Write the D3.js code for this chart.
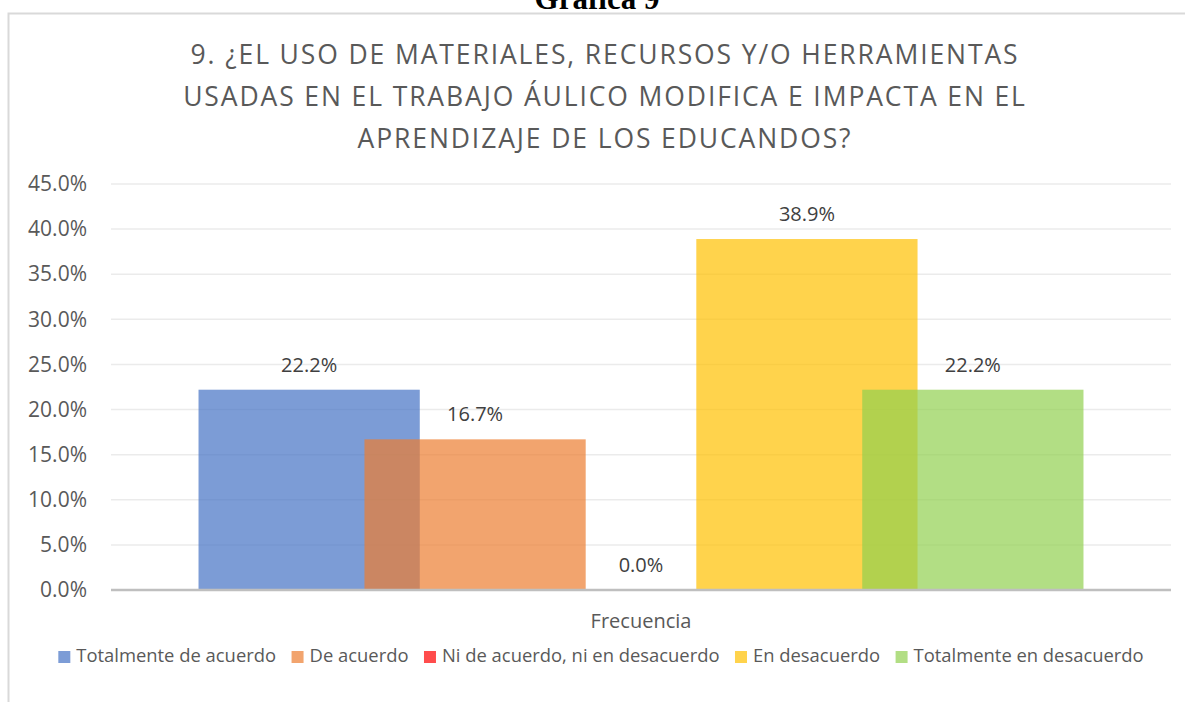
<!DOCTYPE html>
<html>
<head>
<meta charset="utf-8">
<script src="https://cdn.jsdelivr.net/npm/d3@7"></script>
<style>
  body { margin: 0; background: #fff; }
  text { font-family: "Open Sans", sans-serif; }
</style>
</head>
<body>
<div id="chart"></div>
<script>
// Data
const categories = ["Frecuencia"];
const series = ["Totalmente de acuerdo", "De acuerdo", "Ni de acuerdo, ni en desacuerdo", "En desacuerdo", "Totalmente en desacuerdo"];
const values = [0.222, 0.167, 0.0, 0.389, 0.222];
const colors = ["#4472C4", "#ED7D31", "#FF0000", "#FFC000", "#92D050"];
const yTicks = [0, 0.05, 0.10, 0.15, 0.20, 0.25, 0.30, 0.35, 0.40, 0.45];
const titleLines = [
  "9. ¿EL USO DE MATERIALES, RECURSOS Y/O HERRAMIENTAS",
  "USADAS EN EL TRABAJO ÁULICO MODIFICA E IMPACTA EN EL",
  "APRENDIZAJE DE LOS EDUCANDOS?"
];

const width = 1185, height = 702;
const plot = { left: 111, right: 1171, top: 184, bottom: 590 };

const svg = d3.select("#chart").append("svg")
    .attr("width", width)
    .attr("height", height);

// Caption above the frame (cut off at the top, as in the original page)
svg.append("text")
    .attr("x", 597)
    .attr("y", 9)
    .attr("text-anchor", "middle")
    .style("font-family", "'Liberation Serif', 'Times New Roman', serif")
    .style("font-weight", "bold")
    .style("font-size", "31px")
    .attr("fill", "#000")
    .text("Gráfica 9");

// Chart frame
svg.append("path")
    .attr("d", `M8.5,${height} V13.5 H${width}`)
    .attr("fill", "none")
    .attr("stroke", "#D9D9D9")
    .attr("stroke-width", 2);

// Title
const title = svg.append("g");
titleLines.forEach((line, i) => {
  title.append("text")
      .attr("class", "title-line")
      .attr("x", 605)
      .attr("y", 64 + i * 42)
      .attr("text-anchor", "middle")
      .style("font-size", "26.5px")
      .style("font-weight", 400)
      .attr("fill", "#595959")
      .text(line);
});
// fit letter spacing so the first line spans the same width as the original
const firstLine = title.select(".title-line").node();
const natural = firstLine.getComputedTextLength();
const spacing = (827 - natural) / (titleLines[0].length - 1);
title.selectAll(".title-line").style("letter-spacing", spacing + "px");

// Scales
const y = d3.scaleLinear().domain([0, 0.45]).range([plot.bottom, plot.top]);
const x0 = d3.scaleBand().domain(categories).range([plot.left, plot.right])
    .paddingInner(0).paddingOuter(0.0989);
const overlap = 0.25;
const barW = x0.bandwidth() / (1 + (series.length - 1) * (1 - overlap));
const x1 = d3.scalePoint().domain(series).range([0, x0.bandwidth() - barW]);
const color = d3.scaleOrdinal().domain(series).range(colors);

// Gridlines
svg.append("g")
  .selectAll("line")
  .data(yTicks.slice(1))
  .join("line")
    .attr("x1", plot.left)
    .attr("x2", plot.right)
    .attr("y1", d => y(d))
    .attr("y2", d => y(d))
    .attr("stroke", "#EBEBEB")
    .attr("stroke-width", 1.5);

// Y axis labels
const yAxis = svg.append("g")
    .attr("transform", `translate(${plot.left - 24},0)`)
    .call(d3.axisLeft(y).tickValues(yTicks).tickFormat(d3.format(".1%")).tickSize(0).tickPadding(0));
yAxis.select(".domain").remove();
yAxis.selectAll("text")
    .style("font-family", "'Open Sans', sans-serif")
    .style("font-size", "21px")
    .attr("fill", "#595959");

// Bars
const data = series.map((s, i) => ({ cat: categories[0], key: s, value: values[i] }));
svg.append("g")
  .selectAll("rect")
  .data(data)
  .join("rect")
    .attr("x", d => x0(d.cat) + x1(d.key))
    .attr("y", d => y(d.value))
    .attr("width", barW)
    .attr("height", d => y(0) - y(d.value))
    .attr("fill", d => color(d.key))
    .attr("fill-opacity", 0.7);

// Data labels
svg.append("g")
  .selectAll("text")
  .data(data)
  .join("text")
    .attr("x", d => x0(d.cat) + x1(d.key) + barW / 2)
    .attr("y", d => y(d.value) - 18)
    .attr("text-anchor", "middle")
    .style("font-size", "20px")
    .attr("fill", "#404040")
    .text(d => d3.format(".1%")(d.value));

// X axis line
svg.append("line")
    .attr("x1", plot.left)
    .attr("x2", plot.right)
    .attr("y1", y(0))
    .attr("y2", y(0))
    .attr("stroke", "#BFBFBF")
    .attr("stroke-width", 2.5);

// Category label
svg.append("g")
  .selectAll("text")
  .data(categories)
  .join("text")
    .attr("x", d => x0(d) + x0.bandwidth() / 2)
    .attr("y", 628)
    .attr("text-anchor", "middle")
    .style("font-size", "20px")
    .attr("fill", "#595959")
    .text(d => d);

// Legend
const legend = svg.append("g").attr("transform", "translate(0,662)");
const items = legend.selectAll("g")
  .data(series)
  .join("g");
items.append("rect")
    .attr("y", -11)
    .attr("width", 12)
    .attr("height", 12)
    .attr("fill", d => color(d))
    .attr("fill-opacity", 0.7);
items.append("text")
    .attr("x", 18)
    .style("font-size", "18.4px")
    .attr("fill", "#595959")
    .text(d => d);
// lay the items out in a row, centered
const gap = 15.5;
let offset = 0;
const positions = [];
items.each(function() {
  const w = 18 + d3.select(this).select("text").node().getComputedTextLength();
  positions.push(offset);
  offset += w + gap;
});
const total = offset - gap;
const start = 601 - total / 2;
items.attr("transform", (d, i) => `translate(${start + positions[i]},0)`);
</script>
</body>
</html>
